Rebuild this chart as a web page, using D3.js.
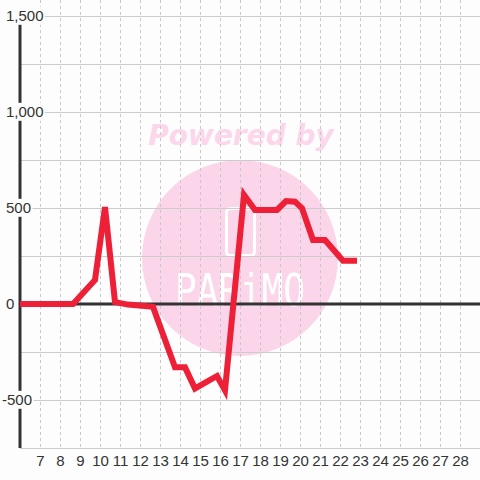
<!DOCTYPE html>
<html>
<head>
<meta charset="utf-8">
<script src="https://cdn.jsdelivr.net/npm/d3@7"></script>
<style>
html, body { margin: 0; padding: 0; background: #fcfdfc; }
svg { display: block; }
</style>
</head>
<body>
<script>
// ---- data ----
const hours  = [6, 8.65, 9.75, 10.25, 10.75, 11.4, 12.65, 13.75, 14.25, 14.75, 15.85, 16.25, 17.2, 17.75, 18.85, 19.3, 19.75, 20.1, 20.65, 21.25, 22.15, 22.85];
const values = [0, 0, 125, 505, 10, -3, -15, -330, -330, -440, -375, -450, 568, 490, 490, 536, 533, 499, 333, 333, 225, 225];
const xTicks = [7, 8, 9, 10, 11, 12, 13, 14, 15, 16, 17, 18, 19, 20, 21, 22, 23, 24, 25, 26, 27, 28];
const yTicks = [-500, 0, 500, 1000, 1500];
const yGrid  = [-750, -500, -250, 0, 250, 500, 750, 1000, 1250, 1500];
const watermarkTop = "Powered by";
const watermarkLogo = "PARiMO";

// ---- layout ----
const W = 480, H = 480;
const x = d3.scaleLinear().domain([6, 29]).range([20, 480]);
const y = d3.scaleLinear().domain([-750, 1500]).range([448, 16]);

const svg = d3.select("body").append("svg").attr("width", W).attr("height", H);
svg.append("rect").attr("width", W).attr("height", H).attr("fill", "#fcfdfc");

// watermark
const wm = svg.append("g");
wm.append("circle").attr("cx", 240).attr("cy", 258).attr("r", 98).attr("fill", "#fbd5ea");
wm.append("text").attr("x", 241).attr("y", 145).attr("text-anchor", "middle")
  .attr("font-family", "DejaVu Sans").attr("font-weight", "bold").attr("font-style", "italic")
  .attr("font-size", 28).attr("fill", "#fcd6eb").text(watermarkTop);
wm.append("rect").attr("x", 226.5).attr("y", 208.5).attr("width", 28).attr("height", 47)
  .attr("rx", 4).attr("fill", "none").attr("stroke", "#ffffff").attr("stroke-width", 3);
wm.append("text").attr("x", 175).attr("y", 306)
  .attr("font-family", "DejaVu Sans Mono").attr("font-size", 44)
  .attr("textLength", 130).attr("lengthAdjust", "spacingAndGlyphs")
  .attr("fill", "#ffffff").text(watermarkLogo);

// grid
svg.append("g").selectAll("line").data(xTicks).join("line")
  .attr("x1", d => x(d)).attr("x2", d => x(d)).attr("y1", 0).attr("y2", y(-750))
  .attr("stroke", "#c8c8c8").attr("stroke-width", 1).attr("stroke-dasharray", "3,3")
  .attr("shape-rendering", "crispEdges");
svg.append("g").selectAll("line").data(yGrid).join("line")
  .attr("x1", x(6)).attr("x2", x(29)).attr("y1", d => y(d)).attr("y2", d => y(d))
  .attr("stroke", "#cccccc").attr("stroke-width", 1).attr("shape-rendering", "crispEdges");

// zero line and y axis line
svg.append("line").attr("x1", x(6)).attr("x2", x(29)).attr("y1", y(0)).attr("y2", y(0))
  .attr("stroke", "#333333").attr("stroke-width", 3);
svg.append("line").attr("x1", x(6)).attr("x2", x(6)).attr("y1", y(1500)).attr("y2", y(-750))
  .attr("stroke", "#333333").attr("stroke-width", 3);

// y labels with background boxes
const fmt = d => d3.format(",")(d).replace("\u2212", "-");
const yAxis = svg.append("g").attr("transform", "translate(6,0)")
  .call(d3.axisRight(y).tickValues(yTicks).tickFormat(fmt).tickSize(0).tickPadding(0));
yAxis.select(".domain").remove();
yAxis.selectAll("text")
  .attr("font-family", "Liberation Sans, Arial, sans-serif").attr("font-size", 15)
  .attr("fill", "#333333").attr("text-anchor", "start")
  .attr("x", d => d < 0 ? -4 : 0);
yAxis.selectAll(".tick").each(function() {
  const t = d3.select(this).select("text");
  const b = t.node().getBBox();
  d3.select(this).insert("rect", "text")
    .attr("x", b.x - 1.5).attr("y", b.y - 0.5).attr("width", b.width + 3).attr("height", b.height + 1)
    .attr("fill", "#fcfdfc");
});

// series line
const line = d3.line().x((d, i) => x(hours[i])).y(d => y(d));
svg.append("path").datum(values).attr("d", line)
  .attr("fill", "none").attr("stroke", "#ee2037").attr("stroke-width", 6)
  .attr("stroke-linejoin", "miter").attr("stroke-linecap", "butt");

// x labels
const xAxis = svg.append("g").attr("transform", `translate(0,${y(-750)})`)
  .call(d3.axisBottom(x).tickValues(xTicks).tickFormat(d => String(d)).tickSize(0).tickPadding(0));
xAxis.select(".domain").remove();
xAxis.selectAll("text")
  .attr("font-family", "Liberation Sans, Arial, sans-serif").attr("font-size", 15)
  .attr("fill", "#333333").attr("y", 0).attr("dy", "1.2em");
</script>
</body>
</html>
